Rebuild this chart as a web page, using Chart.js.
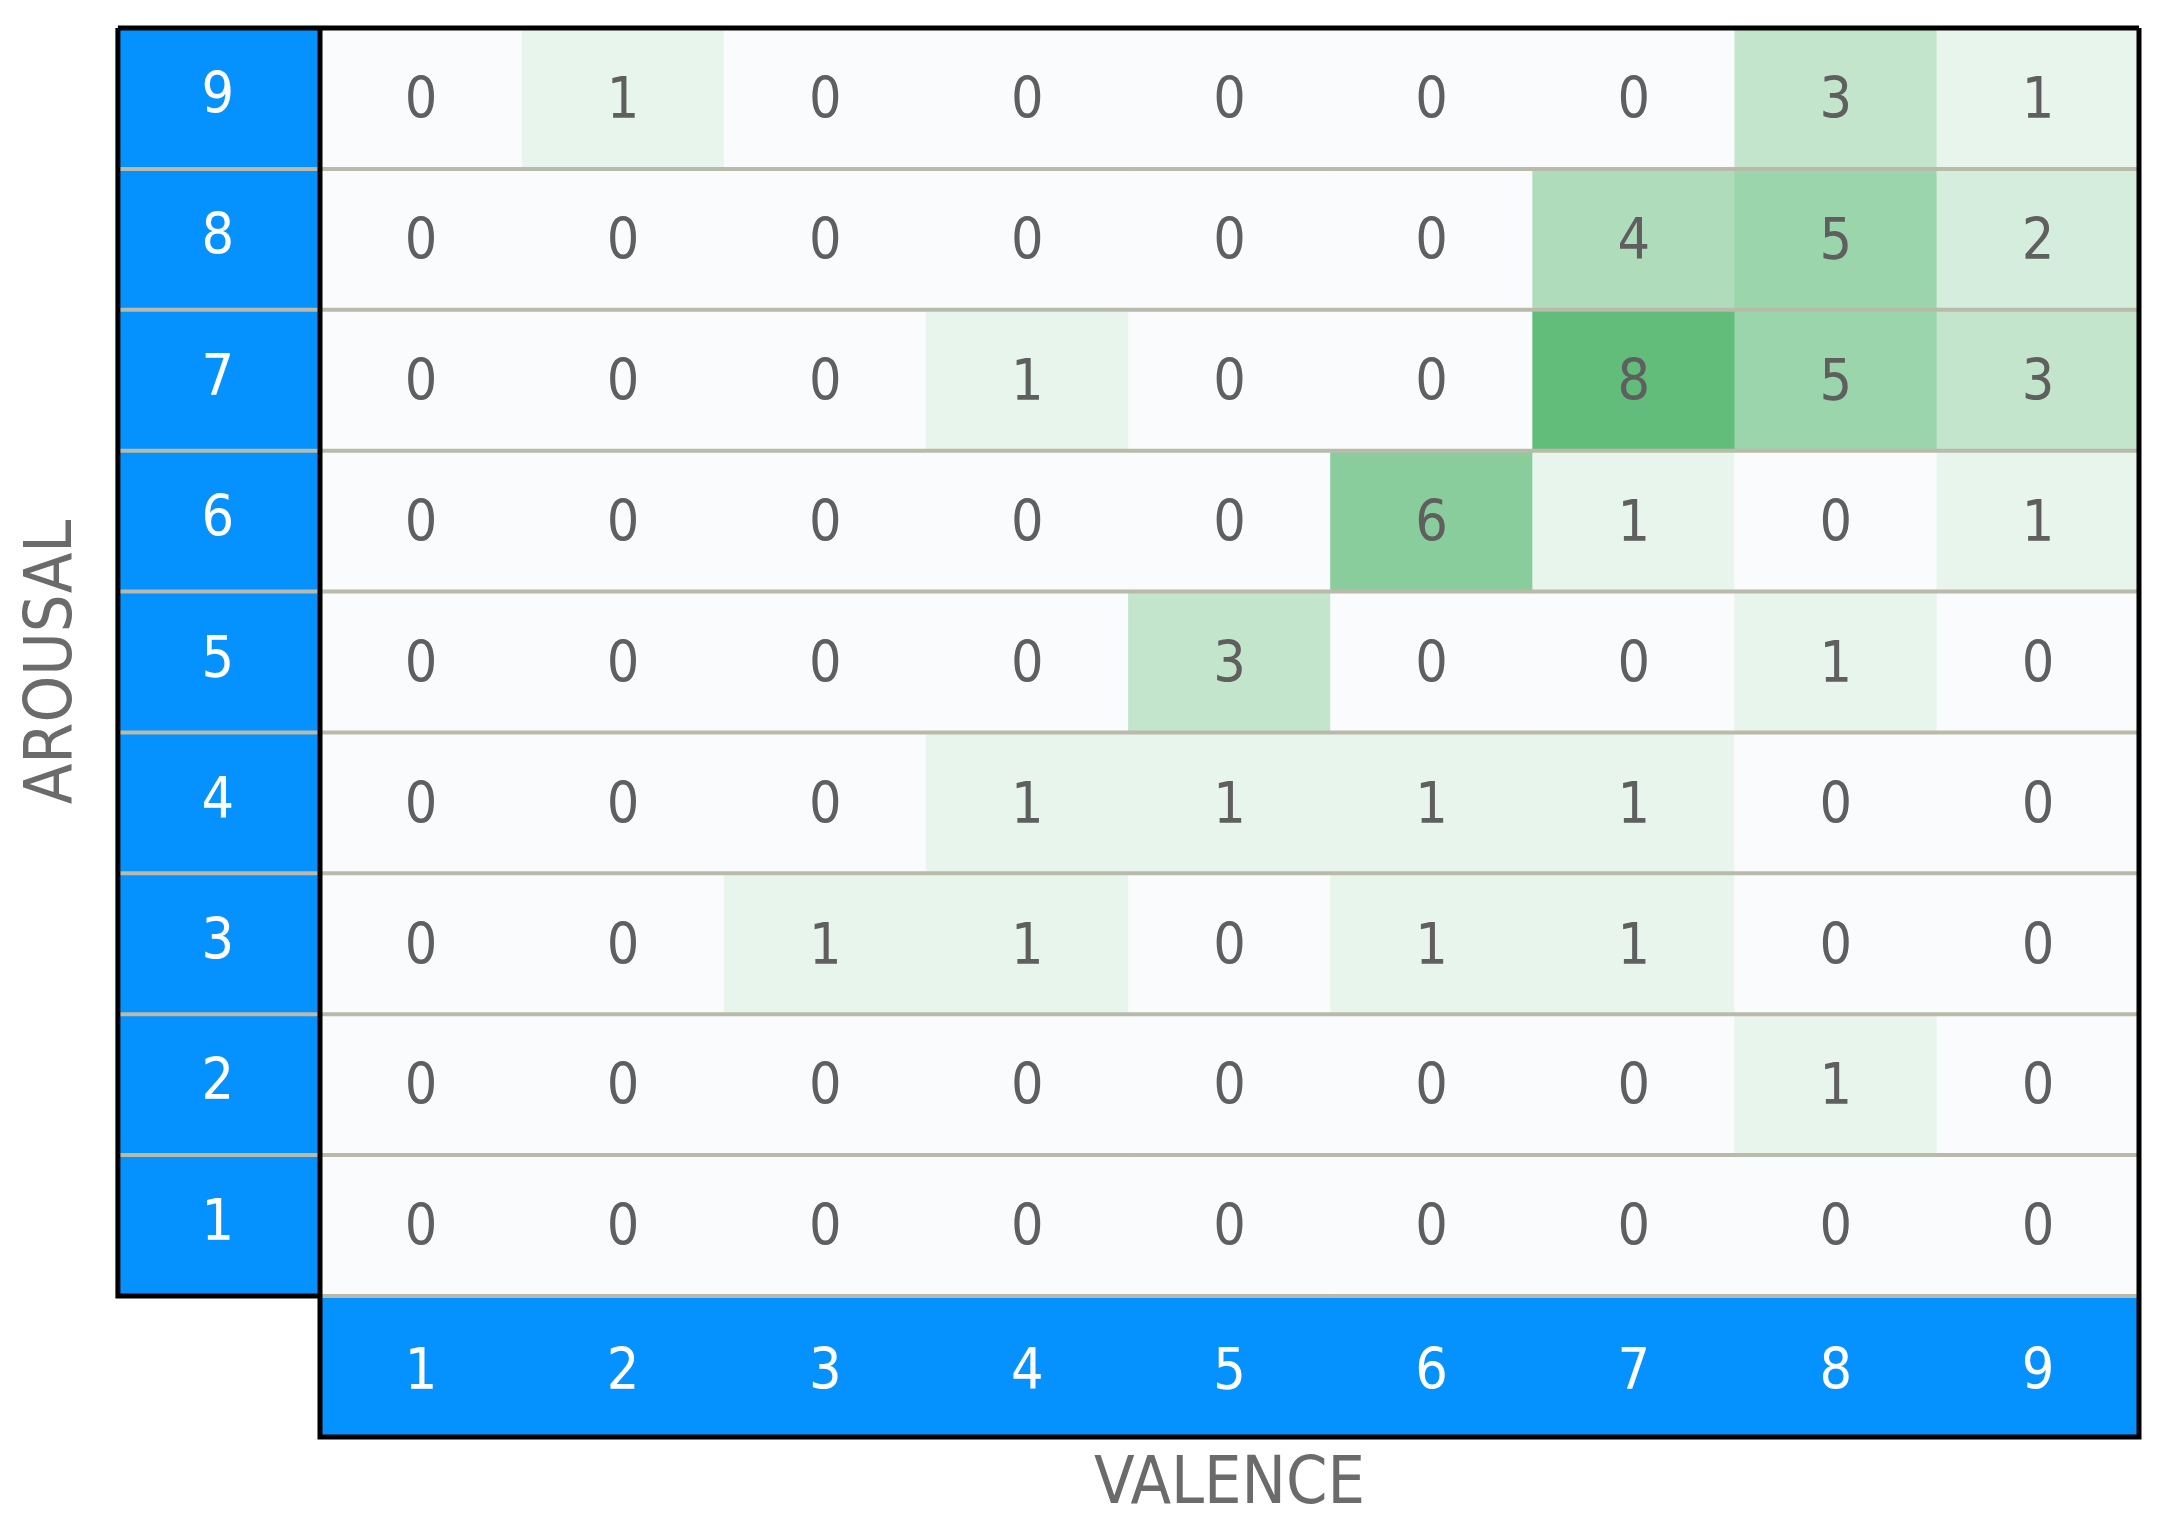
<!DOCTYPE html>
<html>
<head>
<meta charset="utf-8">
<script src="https://cdn.jsdelivr.net/npm/chart.js@4/dist/chart.umd.min.js"></script>
<style>
 body{margin:0;background:#fff;}
 canvas{display:block;}
</style>
</head>
<body>
<canvas id="canvas_heat" width="2160" height="1519"></canvas>
<script>
// axis categories
var valence=['1','2','3','4','5','6','7','8','9'];
var arousal=[9,8,7,6,5,4,3,2,1];
// counts per arousal row, from valence 1 to 9
var arousal9=[0,1,0,0,0,0,0,3,1];
var arousal8=[0,0,0,0,0,0,4,5,2];
var arousal7=[0,0,0,1,0,0,8,5,3];
var arousal6=[0,0,0,0,0,6,1,0,1];
var arousal5=[0,0,0,0,3,0,0,1,0];
var arousal4=[0,0,0,1,1,1,1,0,0];
var arousal3=[0,0,1,1,0,1,1,0,0];
var arousal2=[0,0,0,0,0,0,0,1,0];
var arousal1=[0,0,0,0,0,0,0,0,0];
var rows=[arousal9,arousal8,arousal7,arousal6,arousal5,arousal4,arousal3,arousal2,arousal1];

// styles
var blue='#0591fe';
var sep='#b9baa9';
var font_family="'Liberation Sans Narrow','DejaVu Sans Condensed','DejaVu Sans',sans-serif";

// cell colour: 0 is near white, then light to dark green
function cell_color(v){
 if(v===0){return '#fafbfd';}
 var t=(v-1)/7;
 var r=Math.round(232+(98-232)*t),g=Math.round(245+(189-245)*t),b=Math.round(236+(122-236)*t);
 return 'rgb('+r+','+g+','+b+')';
}

// build datasets, one floating bar per cell
var datasets=rows.map(function(row,i){
 var a=arousal[i];
 return {
  label:'Arousal '+a,
  data:row.map(function(v,j){return {x:valence[j],y:[a-0.5,a+0.5],v:v};}),
  backgroundColor:row.map(cell_color),
  borderWidth:0,
  barPercentage:1,
  categoryPercentage:1,
  grouped:false
 };
});

/* heat plugin: blue axis bands, separators, borders and cell values */
var heat_plugin={
 id:'heat',
 beforeDraw:function(chart){
  var ctx=chart.ctx,ca=chart.chartArea,x=chart.scales.x,y=chart.scales.y;
  var cw=x.getPixelForValue(1)-x.getPixelForValue(0);
  var rh=y.getPixelForValue(1)-y.getPixelForValue(2);
  ctx.save();
  ctx.fillStyle=blue;
  ctx.fillRect(ca.left-cw,ca.top,cw,ca.bottom-ca.top);
  ctx.fillRect(ca.left,ca.bottom,ca.right-ca.left,rh);
  ctx.restore();
 },
 afterDatasetsDraw:function(chart){
  var ctx=chart.ctx,ca=chart.chartArea,x=chart.scales.x,y=chart.scales.y;
  var cw=x.getPixelForValue(1)-x.getPixelForValue(0);
  var rh=y.getPixelForValue(1)-y.getPixelForValue(2);
  var bb=ca.bottom+rh;
  ctx.save();
  // row separators
  ctx.strokeStyle=sep;
  ctx.lineWidth=4;
  for(var k=1;k<arousal.length;k++){
   var py=y.getPixelForValue(k+0.5);
   ctx.beginPath();ctx.moveTo(ca.left-cw,py);ctx.lineTo(ca.right,py);ctx.stroke();
  }
  ctx.beginPath();ctx.moveTo(ca.left,ca.bottom);ctx.lineTo(ca.right,ca.bottom);ctx.stroke();
  // cell values
  ctx.fillStyle='#5f5f5f';
  ctx.font='57px '+font_family;
  ctx.textAlign='center';
  ctx.textBaseline='middle';
  chart.data.datasets.forEach(function(ds,i){
   chart.getDatasetMeta(i).data.forEach(function(bar,j){
    ctx.fillText(String(ds.data[j].v),bar.x,(bar.y+bar.base)/2+5);
   });
  });
  // black borders
  ctx.strokeStyle='#000';
  ctx.lineWidth=5;
  ctx.beginPath();
  ctx.moveTo(ca.left-cw,ca.top);ctx.lineTo(ca.right,ca.top);
  ctx.moveTo(ca.right,ca.top);ctx.lineTo(ca.right,bb);
  ctx.lineTo(ca.left,bb);ctx.lineTo(ca.left,ca.top);
  ctx.moveTo(ca.left-cw,ca.top);ctx.lineTo(ca.left-cw,ca.bottom);ctx.lineTo(ca.left,ca.bottom);
  ctx.stroke();
  ctx.restore();
 }
};

var ctx=document.getElementById('canvas_heat').getContext('2d');
var myChart=new Chart(ctx,{
 type:'bar',
 data:{labels:valence,datasets:datasets},
 plugins:[heat_plugin],
 options:{
  responsive:false,
  animation:false,
  layout:{padding:{top:28,right:21,left:0,bottom:0}},
  plugins:{legend:{display:false},tooltip:{enabled:false}},
  scales:{
   x:{
    type:'category',
    offset:true,
    grid:{display:false,drawTicks:false},
    border:{display:false},
    ticks:{color:'#ffffff',font:{size:57,family:font_family},padding:44},
    title:{display:true,text:'VALENCE',color:'#6b6b6b',font:{size:66,family:font_family,lineHeight:1},padding:{top:0,bottom:0}},
    afterFit:function(s){s.height=223;s.paddingLeft=0;s.paddingRight=0;}
   },
   y:{
    type:'linear',
    min:0.5,
    max:9.5,
    afterBuildTicks:function(s){s.ticks=arousal.map(function(a){return {value:a};});},
    grid:{display:false,drawTicks:false},
    border:{display:false},
    ticks:{color:'#ffffff',font:{size:57,family:font_family},crossAlign:'center',padding:86},
    title:{display:true,text:'AROUSAL',color:'#6b6b6b',font:{size:66,family:font_family},padding:{top:14,bottom:0}},
    afterFit:function(s){s.width=320;s.paddingTop=0;s.paddingBottom=0;}
   }
  }
 }
});
</script>
</body>
</html>
